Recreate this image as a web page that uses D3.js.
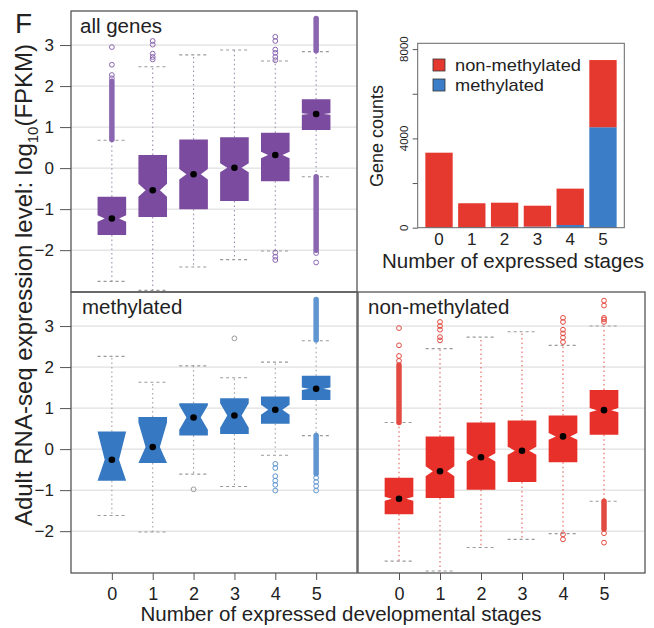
<!DOCTYPE html>
<html>
<head>
<meta charset="utf-8">
<script src="https://cdn.jsdelivr.net/npm/d3@7"></script>
<style>
body { margin: 0; background: #fff; }
svg text { font-family: "Liberation Sans", Arial, sans-serif; fill: #222; }
</style>
</head>
<body>
<div id="chart"></div>
<script>
// x categories: number of expressed developmental stages
var stages = [0, 1, 2, 3, 4, 5];
var yTicks = [-2, -1, 0, 1, 2, 3];

// all genes (log10 FPKM box stats)
var allLow = [-2.76, -2.98, -2.41, -2.23, -2.02, -0.21];
var allQ1 = [-1.63, -1.19, -1.00, -0.80, -0.32, 0.93];
var allMed = [-1.23, -0.54, -0.15, 0.01, 0.32, 1.32];
var allQ3 = [-0.70, 0.32, 0.70, 0.75, 0.86, 1.68];
var allHigh = [0.68, 2.47, 2.76, 2.88, 2.61, 2.84];
var allNotch = [0.08, 0.16, 0.13, 0.11, 0.08, 0.02];
var allOut = [[2.19, 2.27, 2.52, 2.95], [2.65, 2.71, 2.79, 3.01, 3.10], [], [],
  [2.63, 2.71, 2.81, 2.89, 3.10, 3.20, -2.06, -2.16, -2.24], [-2.07, -2.30]];
var allRuns = [[[0.70, 2.12]], [], [], [], [], [[2.86, 3.65], [-0.21, -2.0]]];

// methylated genes
var metLow = [-1.62, -2.02, -0.61, -0.91, -0.15, 0.33];
var metQ1 = [-0.77, -0.34, 0.33, 0.37, 0.62, 1.20];
var metMed = [-0.26, 0.05, 0.77, 0.82, 0.96, 1.47];
var metQ3 = [0.43, 0.78, 1.12, 1.24, 1.28, 1.79];
var metHigh = [2.26, 1.63, 2.03, 1.74, 2.12, 2.64];
var metNotch = [0.69, 0.60, 0.30, 0.30, 0.12, 0.03];
var metOut = [[], [], [-0.98], [2.70], [-0.36, -0.46, -0.66, -0.77, -0.87, -1.01],
  [-0.70, -0.80, -0.90, -1.01]];
var metRuns = [[], [], [], [], [], [[2.66, 3.65], [0.33, -0.60]]];

// non-methylated genes
var nonLow = [-2.73, -2.97, -2.40, -2.20, -2.06, -1.27];
var nonQ1 = [-1.59, -1.19, -0.99, -0.80, -0.32, 0.35];
var nonMed = [-1.21, -0.54, -0.20, -0.04, 0.31, 0.95];
var nonQ3 = [-0.70, 0.31, 0.65, 0.70, 0.82, 1.44];
var nonHigh = [0.65, 2.45, 2.73, 2.86, 2.53, 3.00];
var nonNotch = [0.05, 0.12, 0.10, 0.10, 0.08, 0.05];
var nonOut = [[2.15, 2.27, 2.53, 2.95], [2.65, 2.73, 2.91, 3.00, 3.10], [], [],
  [2.61, 2.72, 2.82, 2.91, 3.10, 3.20, -2.08, -2.20], [3.10, 3.16, 3.20, 3.50, 3.62, -2.05, -2.28]];
var nonRuns = [[[0.65, 2.05]], [], [], [], [], [[-1.27, -1.95]]];

// gene counts per stage
var methylatedCounts = [15, 25, 40, 50, 120, 4500];
var nonMethylatedCounts = [3345, 1070, 1080, 935, 1630, 3010];
var countTicks = [0, 2000, 4000, 6000, 8000];

var purple = "#7a4b9e", blue = "#3679c2", red = "#e8302a";

var svg = d3.select("#chart").append("svg")
  .attr("width", 654).attr("height", 628);

function boxPanel(p) {
  var g = svg.append("g").attr("transform", "translate(" + p.left + "," + p.top + ")");
  var x = d3.scaleLinear().domain([-1, 6]).range([0, p.width]);
  var y = d3.scaleLinear().domain([-3.02, 3.83]).range([p.height, 0]);
  var hw = x(0.35) - x(0);

  g.selectAll("line.grid").data(yTicks).enter().append("line")
    .attr("x1", 0).attr("x2", p.width)
    .attr("y1", function(d) { return y(d); }).attr("y2", function(d) { return y(d); })
    .attr("stroke", "#d8d8d8").attr("stroke-width", 1);

  var rows = stages.map(function(s, i) {
    return {s: s, i: i, lo: p.low[i], q1: p.q1[i], med: p.med[i], q3: p.q3[i], hi: p.high[i],
      n: p.notch[i], out: p.out[i], runs: p.runs[i]};
  });

  var box = g.selectAll("g.box").data(rows).enter().append("g")
    .attr("transform", function(d) { return "translate(" + x(d.s) + ",0)"; });

  // whiskers
  box.selectAll("line.wh").data(function(d) { return [[d.q3, d.hi], [d.q1, d.lo]]; })
    .enter().append("line")
    .attr("y1", function(w) { return y(w[0]); }).attr("y2", function(w) { return y(w[1]); })
    .attr("stroke", p.whisker).attr("stroke-width", 1.1).attr("stroke-dasharray", "1.5,3");
  // caps
  box.selectAll("line.cap").data(function(d) { return [d.lo, d.hi]; })
    .enter().append("line")
    .attr("x1", -hw).attr("x2", hw)
    .attr("y1", function(v) { return y(v); }).attr("y2", function(v) { return y(v); })
    .attr("stroke", "#999").attr("stroke-width", 1.1).attr("stroke-dasharray", "3,3");

  // dense outlier stacks
  box.selectAll("line.run").data(function(d) { return d.runs.map(function(r) { return {r: r, i: d.i}; }); })
    .enter().append("line")
    .attr("y1", function(r) { return y(r.r[0]); }).attr("y2", function(r) { return y(r.r[1]); })
    .attr("stroke", function(r) { return p.outColor(r.i); })
    .attr("stroke-width", 5.5).attr("stroke-linecap", "round");
  box.selectAll("circle.out").data(function(d) { return d.out.map(function(v) { return {v: v, i: d.i}; }); })
    .enter().append("circle")
    .attr("cy", function(o) { return y(o.v); }).attr("r", 2.4)
    .attr("fill", "none").attr("stroke", function(o) { return p.outColor(o.i); }).attr("stroke-width", 1);

  // notched box
  var line = d3.line();
  box.append("path")
    .attr("d", function(d) {
      var lo = Math.max(d.med - d.n, d.q1), up = Math.min(d.med + d.n, d.q3);
      var pts = [[-1, d.q1], [1, d.q1], [1, lo], [0.5, d.med], [1, up], [1, d.q3],
        [-1, d.q3], [-1, up], [-0.5, d.med], [-1, lo]];
      return line(pts.map(function(q) { return [q[0] * hw, y(q[1])]; })) + "Z";
    })
    .attr("fill", p.color);

  box.append("circle").attr("cy", function(d) { return y(d.med); })
    .attr("r", 3.3).attr("fill", "#000");

  g.append("rect").attr("width", p.width).attr("height", p.height)
    .attr("fill", "none").attr("stroke", "#555").attr("stroke-width", 1.3);

  if (p.yAxis) {
    var ya = g.append("g").call(d3.axisLeft(y).tickValues(yTicks).tickSize(11).tickPadding(6)
      .tickFormat(d3.format("d")));
    ya.select(".domain").remove();
    ya.selectAll("line").attr("stroke", "#555");
    ya.selectAll("text").attr("font-size", 17).attr("fill", "#222");
  }
  if (p.xAxis) {
    var xa = g.append("g").attr("transform", "translate(0," + p.height + ")")
      .call(d3.axisBottom(x).tickValues(stages).tickSize(7).tickPadding(7).tickFormat(d3.format("d")));
    xa.select(".domain").remove();
    xa.selectAll("line").attr("stroke", "#555");
    xa.selectAll("text").attr("font-size", 18).attr("fill", "#222");
  }

  g.append("text").attr("x", p.labelX).attr("y", 22)
    .attr("font-size", 20.5).text(p.label);
}

boxPanel({left: 71, top: 11, width: 286, height: 281, label: "all genes", labelX: 9,
  low: allLow, q1: allQ1, med: allMed, q3: allQ3, high: allHigh, notch: allNotch, out: allOut, runs: allRuns,
  color: purple, whisker: "#9c8bb4", outColor: function() { return "#8a66b0"; }, yAxis: true, xAxis: false});

boxPanel({left: 71, top: 292, width: 286, height: 281, label: "methylated", labelX: 11,
  low: metLow, q1: metQ1, med: metMed, q3: metQ3, high: metHigh, notch: metNotch, out: metOut, runs: metRuns,
  color: blue, whisker: "#a0a0a0", outColor: function(i) { return i < 4 ? "#9a9a9a" : "#5f95d0"; }, yAxis: true, xAxis: true});

boxPanel({left: 358, top: 292, width: 287, height: 281, label: "non-methylated", labelX: 10,
  low: nonLow, q1: nonQ1, med: nonMed, q3: nonQ3, high: nonHigh, notch: nonNotch, out: nonOut, runs: nonRuns,
  color: red, whisker: "#e2605a", outColor: function() { return "#e24a42"; }, yAxis: false, xAxis: true});

// shared labels
svg.append("text").attr("x", 15).attr("y", 33).attr("font-size", 28).text("F");

var ylab = svg.append("text")
  .attr("transform", "translate(32,285) rotate(-90)")
  .attr("text-anchor", "middle").attr("font-size", 24);
ylab.append("tspan").text("Adult RNA-seq expression level: log");
ylab.append("tspan").attr("font-size", 15).attr("dy", 6).text("10");
ylab.append("tspan").attr("dy", -6).text("(FPKM)");

svg.append("text").attr("x", 341).attr("y", 621).attr("text-anchor", "middle")
  .attr("font-size", 20.5).text("Number of expressed developmental stages");

// stacked bar chart of gene counts
var bx = d3.scaleBand().domain(stages).range([417.7, 624.3]).paddingInner(1 / 6).paddingOuter(0.2333);
var by = d3.scaleLinear().domain([0, 8260]).range([227.7, 43.3]);
var countRows = stages.map(function(s, i) {
  return {stage: s, methylated: methylatedCounts[i], nonMethylated: nonMethylatedCounts[i]};
});
var series = d3.stack().keys(["methylated", "nonMethylated"])(countRows);
var barColor = {methylated: "#3b7dc6", nonMethylated: "#e5392f"};

svg.append("g").selectAll("g").data(series).enter().append("g")
  .attr("fill", function(s) { return barColor[s.key]; })
  .selectAll("rect").data(function(s) { return s; }).enter().append("rect")
  .attr("x", function(d) { return bx(d.data.stage); })
  .attr("width", bx.bandwidth())
  .attr("y", function(d) { return by(d[1]); })
  .attr("height", function(d) { return by(d[0]) - by(d[1]); });

svg.append("rect").attr("x", 417.7).attr("y", 43.3).attr("width", 624.3 - 417.7).attr("height", 227.7 - 43.3)
  .attr("fill", "none").attr("stroke", "#666").attr("stroke-width", 1);

var cy = svg.append("g").attr("transform", "translate(417.7,0)")
  .call(d3.axisLeft(by).tickValues(countTicks).tickSize(5).tickFormat(""));
cy.select(".domain").remove();
cy.selectAll("line").attr("stroke", "#555");
svg.selectAll("text.cnt").data(countTicks.filter(function(d) { return d % 4000 === 0; }))
  .enter().append("text").attr("class", "cnt")
  .attr("transform", function(d) { return "translate(408," + by(d) + ") rotate(-90)"; })
  .attr("text-anchor", "middle").attr("font-size", 11.5).text(function(d) { return d; });

svg.selectAll("text.stg").data(stages).enter().append("text").attr("class", "stg")
  .attr("x", function(d) { return bx(d) + bx.bandwidth() / 2; }).attr("y", 245)
  .attr("text-anchor", "middle").attr("font-size", 17).text(function(d) { return d; });

svg.append("text").attr("x", 513).attr("y", 268).attr("text-anchor", "middle")
  .attr("font-size", 20.5).text("Number of expressed stages");
svg.append("text").attr("transform", "translate(383,136) rotate(-90)")
  .attr("text-anchor", "middle").attr("font-size", 18).text("Gene counts");

// legend
var legendKeys = ["nonMethylated", "methylated"];
var legendNames = ["non-methylated", "methylated"];
var legendWidths = [126, 89];
var lg = svg.append("g").selectAll("g").data(legendKeys).enter().append("g")
  .attr("transform", function(d, i) { return "translate(433," + (59 + i * 20) + ")"; });
lg.append("rect").attr("width", 12).attr("height", 12)
  .attr("fill", function(d) { return barColor[d]; }).attr("stroke", "#333").attr("stroke-width", 0.8);
lg.append("text").attr("x", 22).attr("y", 12).attr("font-size", 17)
  .attr("lengthAdjust", "spacingAndGlyphs")
  .attr("textLength", function(d, i) { return legendWidths[i]; })
  .text(function(d, i) { return legendNames[i]; });
</script>
</body>
</html>
